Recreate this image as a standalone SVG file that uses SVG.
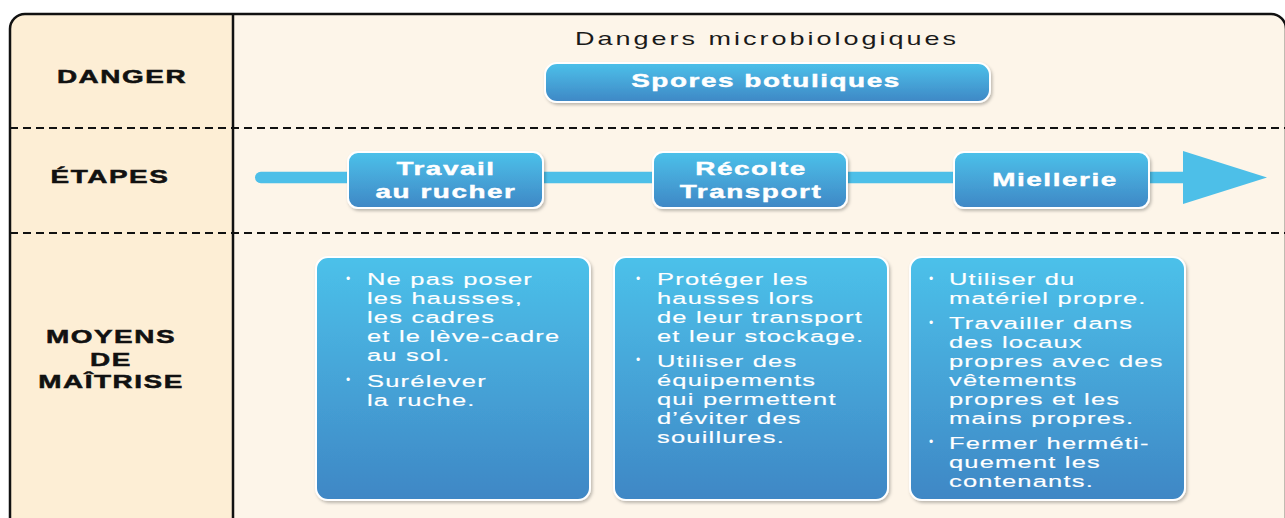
<svg xmlns="http://www.w3.org/2000/svg" width="1285" height="518" viewBox="0 0 1285 518">
<style>
.lbl{font-family:"Liberation Sans",Arial,sans-serif;font-weight:bold;font-size:18px;letter-spacing:1px;fill:#111;stroke:#111;stroke-width:0.5}
.title{font-family:"Liberation Sans",Arial,sans-serif;font-size:18px;letter-spacing:2px;fill:#1a1a1a}
.bt{font-family:"Liberation Sans",Arial,sans-serif;font-weight:bold;font-size:18px;letter-spacing:1px;fill:#fff;stroke:#fff;stroke-width:0.4}
.body{font-family:"Liberation Sans",Arial,sans-serif;font-size:17px;letter-spacing:0.8px;fill:#fff;stroke:#fff;stroke-width:0.15}
.bul{font-family:"Liberation Sans",Arial,sans-serif;font-size:12px;fill:#fff}
.box{fill:url(#g1);stroke:#fff;stroke-width:2;filter:url(#sh)}
.dash{stroke:#111;stroke-width:2;stroke-dasharray:8 5;fill:none}
</style>
<defs>
<linearGradient id="g1" x1="0" y1="0" x2="0" y2="1">
<stop offset="0" stop-color="#4cc1ea"/>
<stop offset="1" stop-color="#3f87c5"/>
</linearGradient>
<filter id="sh" x="-10%" y="-10%" width="120%" height="130%">
<feDropShadow dx="1.5" dy="2" stdDeviation="1.8" flood-color="#000" flood-opacity="0.25"/>
</filter>
</defs>
<rect x="0" y="0" width="1285" height="518" fill="#fff"/>
<g id="frame">
<rect x="10" y="14" width="1276" height="520" rx="15" fill="#fdf5e9"/>
<path d="M233 14 H25 A15 15 0 0 0 10 29 V534 H233 Z" fill="#fdeed5"/>
<rect x="10" y="14" width="1276" height="520" rx="15" fill="none" stroke="#111" stroke-width="2.5"/>
<line x1="233" y1="14" x2="233" y2="518" stroke="#111" stroke-width="2.5"/>
<line class="dash" x1="10" y1="128" x2="1285" y2="128"/>
<line class="dash" x1="10" y1="233" x2="1285" y2="233"/>
</g>
<g id="row-labels">
<g transform="translate(122 0) scale(1.55 1)"><text class="lbl" x="0" y="83" text-anchor="middle">DANGER</text></g>
<g transform="translate(110 0) scale(1.55 1)"><text class="lbl" x="0" y="183" text-anchor="middle">ÉTAPES</text></g>
<g transform="translate(111 0) scale(1.55 1)">
<text class="lbl" x="0" y="343" text-anchor="middle">MOYENS</text>
<text class="lbl" x="0" y="366" text-anchor="middle">DE</text>
<text class="lbl" x="0" y="388" text-anchor="middle">MAÎTRISE</text>
</g>
</g>
<g id="title">
<g transform="translate(575 0) scale(1.5 1)"><text class="title" x="0" y="45">Dangers microbiologiques</text></g>
</g>
<g id="connectors">
<rect x="255" y="171.7" width="935" height="11.6" rx="5.8" fill="#4dbfe8"/>
<polygon points="1183,151 1267,177.5 1183,204" fill="#4dbfe8"/>
</g>
<g id="node-spores">
<rect class="box" x="545" y="63" width="445" height="39" rx="12"/>
<g transform="translate(766 0) scale(1.55 1)"><text class="bt" x="0" y="87" text-anchor="middle">Spores botuliques</text></g>
</g>
<g id="node-travail">
<rect class="box" x="348" y="152" width="195" height="56" rx="10"/>
<g transform="translate(446 0) scale(1.55 1)">
<text class="bt" x="0" y="175" text-anchor="middle">Travail</text>
<text class="bt" x="0" y="198" text-anchor="middle">au rucher</text>
</g>
</g>
<g id="node-recolte">
<rect class="box" x="653" y="152" width="194" height="56" rx="10"/>
<g transform="translate(751 0) scale(1.55 1)">
<text class="bt" x="0" y="175" text-anchor="middle">Récolte</text>
<text class="bt" x="0" y="198" text-anchor="middle">Transport</text>
</g>
</g>
<g id="node-miellerie">
<rect class="box" x="954" y="152" width="195" height="56" rx="10"/>
<g transform="translate(1055 0) scale(1.55 1)">
<text class="bt" x="0" y="186" text-anchor="middle">Miellerie</text>
</g>
</g>
<g id="node-moyens-1">
<rect class="box" x="316" y="257" width="274" height="243" rx="12"/>
<text class="bul" x="346" y="283">•</text>
<text class="bul" x="346" y="384">•</text>
<g transform="translate(367 0) scale(1.5 1)">
<text class="body" x="0" y="285">Ne pas poser</text>
<text class="body" x="0" y="304">les hausses,</text>
<text class="body" x="0" y="323">les cadres</text>
<text class="body" x="0" y="342">et le lève-cadre</text>
<text class="body" x="0" y="361">au sol.</text>
<text class="body" x="0" y="387">Surélever</text>
<text class="body" x="0" y="406">la ruche.</text>
</g>
</g>
<g id="node-moyens-2">
<rect class="box" x="614" y="257" width="274" height="243" rx="12"/>
<text class="bul" x="636" y="283">•</text>
<text class="bul" x="636" y="364">•</text>
<g transform="translate(657 0) scale(1.5 1)">
<text class="body" x="0" y="285">Protéger les</text>
<text class="body" x="0" y="304">hausses lors</text>
<text class="body" x="0" y="323">de leur transport</text>
<text class="body" x="0" y="342">et leur stockage.</text>
<text class="body" x="0" y="367">Utiliser des</text>
<text class="body" x="0" y="386">équipements</text>
<text class="body" x="0" y="405">qui permettent</text>
<text class="body" x="0" y="424">d’éviter des</text>
<text class="body" x="0" y="443">souillures.</text>
</g>
</g>
<g id="node-moyens-3">
<rect class="box" x="910" y="257" width="275" height="243" rx="12"/>
<text class="bul" x="929" y="283">•</text>
<text class="bul" x="929" y="327">•</text>
<text class="bul" x="929" y="446">•</text>
<g transform="translate(949 0) scale(1.5 1)">
<text class="body" x="0" y="285">Utiliser du</text>
<text class="body" x="0" y="304">matériel propre.</text>
<text class="body" x="0" y="329">Travailler dans</text>
<text class="body" x="0" y="348">des locaux</text>
<text class="body" x="0" y="367">propres avec des</text>
<text class="body" x="0" y="386">vêtements</text>
<text class="body" x="0" y="405">propres et les</text>
<text class="body" x="0" y="424">mains propres.</text>
<text class="body" x="0" y="449">Fermer herméti-</text>
<text class="body" x="0" y="468">quement les</text>
<text class="body" x="0" y="487">contenants.</text>
</g>
</g>
</svg>
